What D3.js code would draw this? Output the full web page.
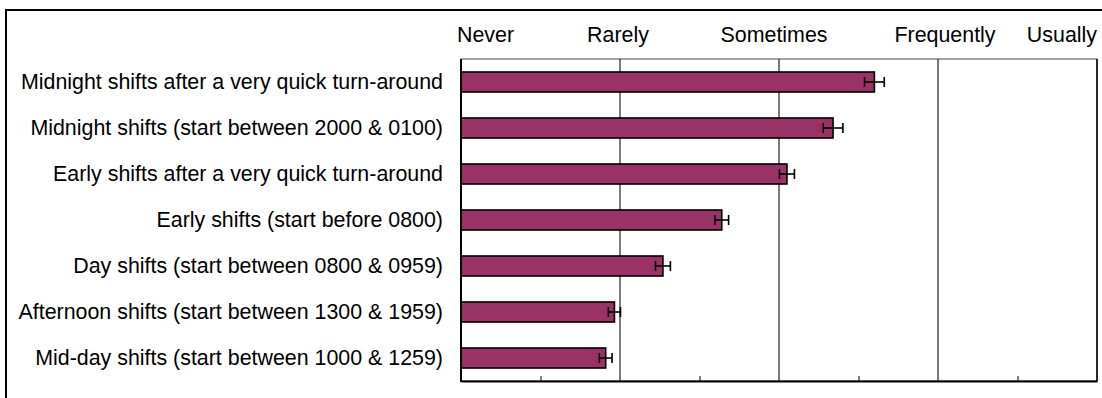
<!DOCTYPE html>
<html>
<head>
<meta charset="utf-8">
<script src="https://cdn.jsdelivr.net/npm/d3@7"></script>
<style>
  html, body { margin: 0; padding: 0; background: #fff; }
  svg { display: block; font-family: "Liberation Sans", Arial, sans-serif; }
</style>
</head>
<body>
<svg id="chart" width="1102" height="398"></svg>
<script>
// ---- data ----
const categories = [
  "Midnight shifts after a very quick turn-around",
  "Midnight shifts (start between 2000 & 0100)",
  "Early shifts after a very quick turn-around",
  "Early shifts (start before 0800)",
  "Day shifts (start between 0800 & 0959)",
  "Afternoon shifts (start between 1300 & 1959)",
  "Mid-day shifts (start between 1000 & 1259)"
];
const means  = [3.60, 3.34, 3.05, 2.64, 2.27, 1.965, 1.91];
const errors = [0.062, 0.062, 0.047, 0.043, 0.047, 0.038, 0.040];
const scaleLabels = ["Never", "Rarely", "Sometimes", "Frequently", "Usually"];
const scaleValues = [1, 2, 3, 4, 5];
const minorTicks = [1.5, 2.5, 3.5, 4.5];

// ---- layout ----
const svg = d3.select("#chart");
const plot = { left: 461, right: 1097, top: 59, bottom: 381 };
const fontSize = 21.4;

const x = d3.scaleLinear().domain([1, 5]).range([plot.left, plot.right]);
const y = d3.scaleBand().domain(categories).range([plot.top, plot.bottom])
  .paddingInner(0.565).paddingOuter(0.2825);

// outer frame (extends beyond the view)
svg.append("rect")
  .attr("x", 6).attr("y", 10).attr("width", 1200).attr("height", 500)
  .attr("fill", "none").attr("stroke", "#000").attr("stroke-width", 2);

// plot area border
svg.append("rect")
  .attr("x", plot.left).attr("y", plot.top)
  .attr("width", plot.right - plot.left).attr("height", plot.bottom - plot.top)
  .attr("fill", "none").attr("stroke", "#444").attr("stroke-width", 1);

// right border darker
svg.append("line")
  .attr("x1", plot.right).attr("x2", plot.right)
  .attr("y1", plot.top).attr("y2", plot.bottom)
  .attr("stroke", "#000").attr("stroke-width", 1.5);

// gridlines
svg.append("g").selectAll("line")
  .data(scaleValues.slice(1, -1))
  .join("line")
  .attr("x1", d => x(d)).attr("x2", d => x(d))
  .attr("y1", plot.top).attr("y2", plot.bottom)
  .attr("stroke", "#222").attr("stroke-width", 1.2);

// bars
svg.append("g").selectAll("rect")
  .data(categories)
  .join("rect")
  .attr("x", x(1))
  .attr("y", d => y(d))
  .attr("width", (d, i) => x(means[i]) - x(1))
  .attr("height", y.bandwidth())
  .attr("fill", "#993366")
  .attr("stroke", "#000").attr("stroke-width", 1.6);

// error bars
const eg = svg.append("g").attr("stroke", "#000").attr("stroke-width", 1.6).attr("fill", "none");
categories.forEach((c, i) => {
  const cy = y(c) + y.bandwidth() / 2;
  const x0 = x(means[i] - errors[i]), x1 = x(means[i] + errors[i]);
  eg.append("line").attr("x1", x0).attr("x2", x1).attr("y1", cy).attr("y2", cy);
  eg.append("line").attr("x1", x0).attr("x2", x0).attr("y1", cy - 5).attr("y2", cy + 5);
  eg.append("line").attr("x1", x1).attr("x2", x1).attr("y1", cy - 5).attr("y2", cy + 5);
});

// bottom axis with inward minor ticks
const bottomAxis = svg.append("g")
  .attr("transform", `translate(0,${plot.bottom})`)
  .call(d3.axisBottom(x).tickValues(minorTicks).tickSize(-5).tickSizeOuter(0).tickFormat(""));
bottomAxis.select(".domain").attr("stroke", "#000").attr("stroke-width", 2);
bottomAxis.selectAll(".tick line").attr("stroke", "#000").attr("stroke-width", 1);

// left axis line
svg.append("line")
  .attr("x1", plot.left).attr("x2", plot.left)
  .attr("y1", plot.top).attr("y2", plot.bottom + 1)
  .attr("stroke", "#000").attr("stroke-width", 2);

// category labels
svg.append("g").selectAll("text")
  .data(categories)
  .join("text")
  .attr("x", plot.left - 18)
  .attr("y", d => y(d) + y.bandwidth() / 2)
  .attr("dy", "0.35em")
  .attr("text-anchor", "end")
  .attr("font-size", fontSize)
  .attr("fill", "#000")
  .text(d => d);

// top scale labels
const topOffsets = [-4, -2, -5, 7, 0];
svg.append("g").selectAll("text")
  .data(scaleLabels)
  .join("text")
  .attr("x", (d, i) => x(scaleValues[i]) + topOffsets[i])
  .attr("y", 42)
  .attr("text-anchor", (d, i) => i === 0 ? "start" : (i === scaleLabels.length - 1 ? "end" : "middle"))
  .attr("font-size", fontSize)
  .attr("fill", "#000")
  .text(d => d);
</script>
</body>
</html>
